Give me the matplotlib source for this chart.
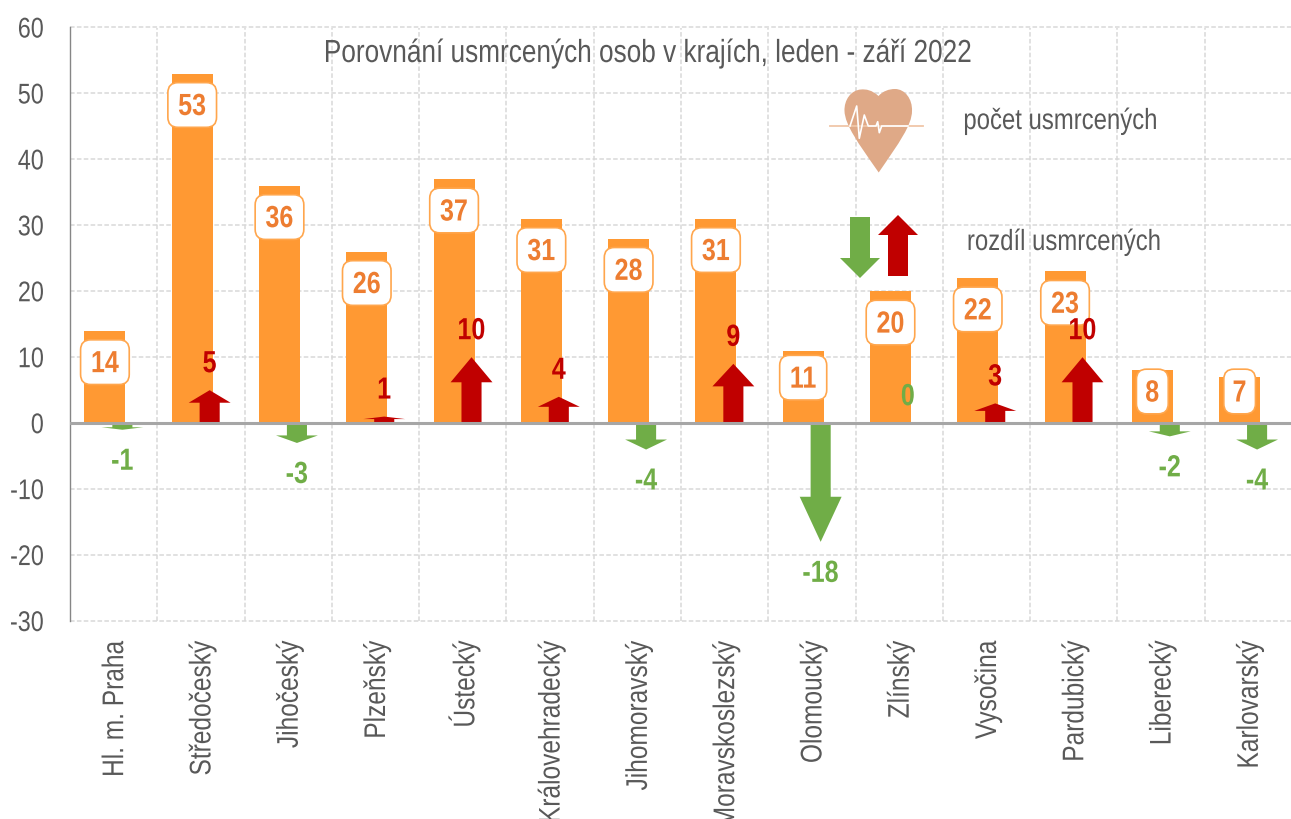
"""Porovnani usmrcenych osob v krajich - bars with arrow-shaped difference marks."""

import matplotlib

matplotlib.use("Agg")
import matplotlib.pyplot as plt
from matplotlib.patches import PathPatch, Polygon
from matplotlib.path import Path
from matplotlib.patheffects import AbstractPathEffect
from matplotlib.transforms import Affine2D

plt.rcParams["font.family"] = ["Liberation Sans", "DejaVu Sans"]
plt.rcParams["axes.unicode_minus"] = False

regions = ["Hl. m. Praha", "Středočeský", "Jihočeský", "Plzeňský", "Ústecký",
           "Královehradecký", "Jihomoravský", "Moravskoslezský", "Olomoucký",
           "Zlínský", "Vysočina", "Pardubický", "Liberecký", "Karlovarský"]
deaths = [14, 53, 36, 26, 37, 31, 28, 31, 11, 20, 22, 23, 8, 7]
diffs = [-1, 5, -3, 1, 10, 4, -4, 9, -18, 0, 3, 10, -2, -4]
y_ticks = [-30, -20, -10, 0, 10, 20, 30, 40, 50, 60]

W, H = 1291, 819
GREY = "#595959"
ORANGE = "#FF9933"
LABEL_ORANGE = "#ED7D31"
RED = "#C00000"
GREEN = "#70AD47"
OFFSET = 0.1
HEAD_SHARE = 0.38
NARROW = 0.82


class Squeeze(AbstractPathEffect):
    """Narrow a text along its baseline, there is no Arial Narrow here."""

    def __init__(self, factor=NARROW, anchor=0.5, shift=(0, 0)):
        super().__init__()
        self.factor = factor
        self.anchor = anchor
        self.shift = shift

    def draw_path(self, renderer, gc, tpath, affine, rgbFace=None):
        x0 = tpath.get_extents().x1 * self.anchor
        squeeze = Affine2D().translate(-x0, 0).scale(self.factor, 1).translate(x0, 0)
        nudge = Affine2D().translate(*self.shift)
        renderer.draw_path(gc, tpath, squeeze + affine + nudge, rgbFace)


fig = plt.figure(figsize=(W / 100, H / 100), dpi=100)
ax = fig.add_axes([70 / W, 1 - 621 / H, (W - 70 + 1) / W, (621 - 27.5) / H])
ax.set_xlim(-0.5, 13.5)
ax.set_ylim(-30, 60)

# dashed grid, one vertical line between each pair of regions
ax.set_yticks(y_ticks)
ax.set_xticks([i + 0.5 for i in range(13)], minor=True)
ax.grid(axis="y", color="#D9D9D9", ls=(0, (3, 1.5)), lw=1.1, zorder=0, clip_on=False)
ax.grid(axis="x", which="minor", color="#D9D9D9", ls=(0, (3, 1.5)), lw=1.1, zorder=0)
ax.set_axisbelow(True)
for side in ("top", "right", "bottom"):
    ax.spines[side].set_visible(False)
ax.spines["left"].set_color("#868686")
ax.spines["left"].set_linewidth(1.0)
ax.tick_params(axis="both", which="both", length=0)
ax.tick_params(axis="y", labelsize=20.5, labelcolor=GREY, pad=18.7)
for label in ax.get_yticklabels():
    label.set_path_effects([Squeeze(anchor=1)])

ax.set_xticks(range(len(regions)))
ax.set_xticklabels(regions, rotation=90, fontsize=21.5, color=GREY, va="top", ha="center")
ax.tick_params(axis="x", pad=14)
for label in ax.get_xticklabels():
    label.set_path_effects([Squeeze(anchor=1, shift=(1.5, 0))])

xs = list(range(len(regions)))
ax.bar([x - OFFSET for x in xs], deaths, width=0.47, color=ORANGE, zorder=2)
ax.axhline(0, color="#A6A6A6", lw=2.2, zorder=5)

# arrows are bars in the original: the head grows with the value
for x, d in zip(xs, diffs):
    if d == 0:
        continue
    cx = x + OFFSET
    neck = d * (1 - HEAD_SHARE)
    pts = [(cx - 0.115, 0), (cx - 0.115, neck), (cx - 0.24, neck), (cx, d),
           (cx + 0.24, neck), (cx + 0.115, neck), (cx + 0.115, 0)]
    ax.add_patch(Polygon(pts, closed=True, fc=RED if d > 0 else GREEN, ec="none", zorder=4))

# count labels, the short bars have theirs pushed up by hand
label_y = {11: 6.9, 8: 4.8, 7: 4.8}
for x, v in zip(xs, deaths):
    ax.text(x - OFFSET, label_y.get(v, v - 4.75), str(v), ha="center", va="center",
            fontsize=22, fontweight="bold", color=LABEL_ORANGE, zorder=6,
            path_effects=[Squeeze(shift=(0, -2))],
            bbox=dict(boxstyle="round,pad=0.24,rounding_size=0.33", fc="white",
                      ec="#FFA64D", lw=1.2))

for x, d in zip(xs, diffs):
    color = RED if d > 0 else GREEN
    ax.annotate(str(d), (x + OFFSET, d), xytext=(0, 28 if d >= 0 else -30),
                textcoords="offset pixels", ha="center", va="center", fontsize=22,
                fontweight="bold", color=color, zorder=7,
                path_effects=[Squeeze(shift=(0, -2))])

fig.text(649 / W, 1 - 52 / H, "Porovnání usmrcených osob v krajích, leden - září 2022",
         ha="center", va="center", fontsize=23, color=GREY,
         path_effects=[Squeeze(shift=(0, -2))])
fig.text(1060.5 / W, 1 - 119 / H, "počet usmrcených", ha="center", va="center",
         fontsize=21, color=GREY, path_effects=[Squeeze(shift=(0, -2))])
fig.text(1064 / W, 1 - 240 / H, "rozdíl usmrcených", ha="center", va="center",
         fontsize=21, color=GREY, path_effects=[Squeeze(shift=(0, -2))])

# legend pictures, drawn in pixel coordinates on a clear overlay
ov = fig.add_axes([0, 0, 1, 1], zorder=10)
ov.set_xlim(0, W)
ov.set_ylim(H, 0)
ov.axis("off")

heart = Path(
    [(878.5, 96), (872, 90), (866, 89), (861, 89.5), (851, 90), (844, 100), (844.5, 111),
     (845, 125), (858, 143), (878.7, 172.5), (899, 143), (912, 125), (912, 111),
     (912.5, 99), (905, 89), (895, 89), (889, 89), (883, 91), (878.5, 96)],
    [Path.MOVETO] + [Path.CURVE4] * 18,
)
ov.add_patch(PathPatch(heart, fc="#DFA987", ec="none"))
ov.plot([830, 923], [126, 126], color="#F0C6A8", lw=1.3)
pulse_x = [850, 856.7, 859.3, 864.3, 868.3, 876, 877.7, 879.3, 881.7, 908]
pulse_y = [126, 106, 138.3, 115, 126, 126, 121.7, 132.7, 126, 126]
ov.plot(pulse_x, pulse_y, color="white", lw=1.2)

ov.add_patch(Polygon([(850, 217), (870, 217), (870, 258), (880, 258), (860, 278),
                      (840, 258), (850, 258)], closed=True, fc=GREEN, ec="none"))
ov.add_patch(Polygon([(888, 276), (908, 276), (908, 235), (918, 235), (898, 215),
                      (878, 235), (888, 235)], closed=True, fc=RED, ec="none"))

fig.savefig("out.png", dpi=100, facecolor="white")
